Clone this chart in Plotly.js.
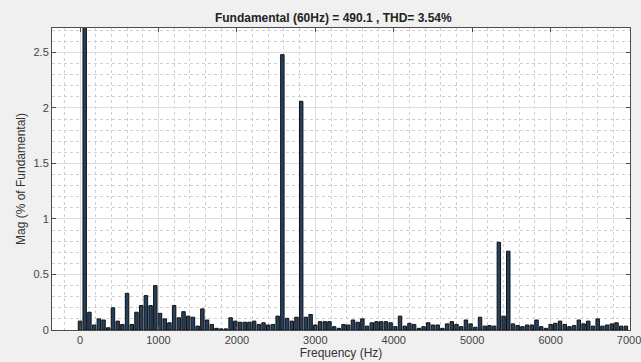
<!DOCTYPE html>
<html>
<head>
<meta charset="utf-8">
<script src="https://cdn.plot.ly/plotly-3.0.1.min.js"></script>
<style>html,body{margin:0;padding:0;background:#f0f0f0;}#chart{width:641px;height:362px;}</style>
</head>
<body>
<div id="chart"></div>
<script>
// Harmonic order (frequency = order * 60 Hz)
const fundamentalHz = 60;
const harmonicOrder = Array.from({length: 117}, (_, i) => i);
// Magnitude in % of fundamental (fundamental = 100, clipped by axis)
const magnitude = [
  0.08, 100, 0.16, 0.045, 0.10, 0.09, 0.02, 0.20, 0.08, 0.05,
  0.33, 0.05, 0.16, 0.22, 0.31, 0.22, 0.40, 0.15, 0.10, 0.065,
  0.22, 0.11, 0.165, 0.125, 0.115, 0.035, 0.19, 0.09, 0.05, 0.015,
  0.01, 0.01, 0.11, 0.08, 0.07, 0.07, 0.07, 0.08, 0.05, 0.065,
  0.045, 0.05, 0.125, 2.48, 0.105, 0.08, 0.115, 2.06, 0.115, 0.14,
  0.045, 0.075, 0.075, 0.075, 0.03, 0.015, 0.05, 0.045, 0.09, 0.07,
  0.10, 0.035, 0.065, 0.075, 0.075, 0.075, 0.065, 0.03, 0.125, 0.035,
  0.06, 0.05, 0.015, 0.03, 0.065, 0.045, 0.045, 0.015, 0.055, 0.075,
  0.05, 0.03, 0.09, 0.055, 0.025, 0.115, 0.035, 0.04, 0.035, 0.79,
  0.125, 0.71, 0.055, 0.04, 0.03, 0.045, 0.045, 0.09, 0.03, 0.015,
  0.05, 0.06, 0.08, 0.05, 0.03, 0.04, 0.09, 0.055, 0.08, 0.035,
  0.10, 0.035, 0.045, 0.055, 0.065, 0.035, 0.035
];
const frequency = harmonicOrder.map(n => n * fundamentalHz);
const xTicks = [0, 1000, 2000, 3000, 4000, 5000, 6000, 7000];
const yTicks = [0, 0.5, 1, 1.5, 2, 2.5];

const trace = {
  type: 'bar',
  x: frequency,
  y: magnitude,
  width: 44,
  marker: {color: '#23405f', line: {color: '#111111', width: 1}},
  hoverinfo: 'x+y'
};

const axisCommon = {
  showline: true, linecolor: '#4d4d4d', linewidth: 1, mirror: 'ticks',
  ticks: 'inside', ticklen: 4, tickcolor: '#4d4d4d',
  showgrid: true, gridcolor: '#dedede', gridwidth: 1,
  zeroline: false,
  tickfont: {family: 'Liberation Sans, Arial, sans-serif', size: 11, color: '#444'}
};

const layout = {
  width: 641, height: 362,
  paper_bgcolor: '#f0f0f0', plot_bgcolor: '#ffffff',
  margin: {l: 52, r: 11, t: 28, b: 32},
  bargap: 0,
  title: {text: '<b>Fundamental (60Hz) = 490.1 , THD= 3.54%</b>',
    x: 0.52, xanchor: 'center', y: 0.952, yanchor: 'middle',
    font: {family: 'Liberation Sans, Arial, sans-serif', size: 12, color: '#222'}},
  xaxis: Object.assign({}, axisCommon, {
    range: [-357, 7012], tickvals: xTicks, ticktext: xTicks.map(String),
    ticklabeloverflow: 'allow',
    minor: {tickvals: [-200,200,400,600,800,1200,1400,1600,1800,2200,2400,2600,2800,3200,3400,3600,3800,4200,4400,4600,4800,5200,5400,5600,5800,6200,6400,6600,6800],
      showgrid: true, gridcolor: '#cfcfcf', griddash: 'dot', gridwidth: 1, ticks: ''},
    title: {text: 'Frequency (Hz)', standoff: 2,
      font: {family: 'Liberation Sans, Arial, sans-serif', size: 12, color: '#333'}}
  }),
  yaxis: Object.assign({}, axisCommon, {
    range: [0, 2.72], tickvals: yTicks, ticktext: ['0','0.5','1','1.5','2','2.5'],
    minor: {dtick: 0.1, showgrid: true, gridcolor: '#cfcfcf', griddash: 'dot', gridwidth: 1, ticks: ''},
    title: {text: 'Mag (% of Fundamental)', standoff: 5,
      font: {family: 'Liberation Sans, Arial, sans-serif', size: 12, color: '#333'}}
  }),
  showlegend: false
};

Plotly.newPlot('chart', [trace], layout, {displayModeBar: false, staticPlot: true});
</script>
</body>
</html>
